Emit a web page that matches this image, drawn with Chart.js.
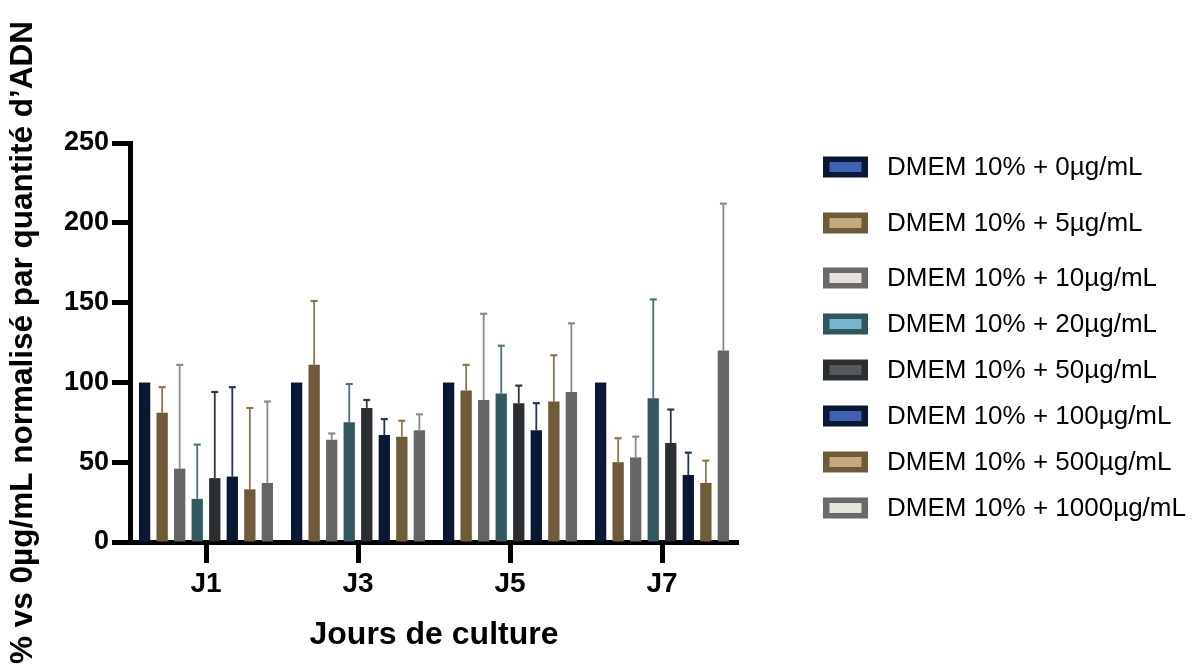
<!DOCTYPE html>
<html>
<head>
<meta charset="utf-8">
<script src="https://cdn.jsdelivr.net/npm/chart.js@4.4.1/dist/chart.umd.min.js"></script>
<style>
  html, body { margin: 0; padding: 0; background: #ffffff; }
  #wrap { position: relative; width: 1200px; height: 666px; }
  canvas { display: block; }
</style>
</head>
<body>
<div id="wrap"><canvas id="c" width="1200" height="666"></canvas></div>
<script>
// ---- Data ----
const categories = ['J1', 'J3', 'J5', 'J7'];
const seriesLabels = [
  'DMEM 10% + 0µg/mL',
  'DMEM 10% + 5µg/mL',
  'DMEM 10% + 10µg/mL',
  'DMEM 10% + 20µg/mL',
  'DMEM 10% + 50µg/mL',
  'DMEM 10% + 100µg/mL',
  'DMEM 10% + 500µg/mL',
  'DMEM 10% + 1000µg/mL'
];
const s0    = [100, 100, 100, 100];
const s5    = [81, 111, 95, 50];
const s10   = [46, 64, 89, 53];
const s20   = [27, 75, 93, 90];
const s50   = [40, 84, 87, 62];
const s100  = [41, 67, 70, 42];
const s500  = [33, 66, 88, 37];
const s1000 = [37, 70, 94, 120];

const sd0    = [0, 0, 0, 0];
const sd5    = [16, 40, 16, 15];
const sd10   = [65, 4, 54, 13];
const sd20   = [34, 24, 30, 62];
const sd50   = [54, 5, 11, 21];
const sd100  = [56, 10, 17, 14];
const sd500  = [51, 10, 29, 14];
const sd1000 = [51, 10, 43, 92];

const yTicks = [0, 50, 100, 150, 200, 250];
const xTitle = 'Jours de culture';
const yTitle = '% vs 0µg/mL normalisé par quantité d’ADN';

// ---- Styles ----
const barColors   = ['#0a1835', '#6f5b37', '#666666', '#335a60', '#2b2f31', '#0a1835', '#6f5b37', '#666666'];
const errColors   = ['#0a1835', '#8b7650', '#8a8a8a', '#4d7480', '#333638', '#22335c', '#8b7650', '#8a8a8a'];
const legendBorder= ['#0a1835', '#6f5b37', '#6a6a6a', '#30575e', '#2a2e30', '#0a1835', '#6f5b37', '#6a6a6a'];
const legendInner = ['#3d63b3', '#c2aa7c', '#e4e2da', '#78b6d0', '#565a5e', '#3d63b3', '#c2aa7c', '#e4e2da'];

const values = [s0, s5, s10, s20, s50, s100, s500, s1000];
const errors = [sd0, sd5, sd10, sd20, sd50, sd100, sd500, sd1000];

const FONT = '"Liberation Sans", Arial, Helvetica, sans-serif';

const datasets = seriesLabels.map((lab, i) => ({
  label: lab,
  data: values[i],
  errorValues: errors[i],
  backgroundColor: barColors[i],
  borderWidth: 0,
  categoryPercentage: 0.923,
  barPercentage: 0.645
}));

const errorBarPlugin = {
  id: 'errorBars',
  afterDatasetsDraw(chart) {
    const ctx = chart.ctx;
    const yScale = chart.scales.y;
    chart.data.datasets.forEach((ds, di) => {
      const meta = chart.getDatasetMeta(di);
      ds.errorValues.forEach((e, i) => {
        if (!e) return;
        const el = meta.data[i];
        const yTop = yScale.getPixelForValue(ds.data[i] + e);
        const yBar = yScale.getPixelForValue(ds.data[i]);
        ctx.save();
        ctx.strokeStyle = errColors[di];
        ctx.lineWidth = 1.8;
        ctx.beginPath();
        ctx.moveTo(el.x, yBar);
        ctx.lineTo(el.x, yTop);
        ctx.stroke();
        ctx.lineWidth = 2.2;
        ctx.beginPath();
        ctx.moveTo(el.x - 3.5, yTop);
        ctx.lineTo(el.x + 3.5, yTop);
        ctx.stroke();
        ctx.restore();
      });
    });
  }
};

const legendPlugin = {
  id: 'customLegend',
  afterDraw(chart, args, opts) {
    const ctx = chart.ctx;
    ctx.save();
    chart.data.datasets.forEach((ds, i) => {
      const cy = opts.rows[i];
      const bx = opts.boxX, bw = opts.boxW, bh = opts.boxH, bt = opts.boxBorder;
      ctx.fillStyle = legendBorder[i];
      ctx.fillRect(bx, cy - bh / 2, bw, bh);
      ctx.fillStyle = legendInner[i];
      ctx.fillRect(bx + bt + 1, cy - bh / 2 + bt, bw - 2 * bt - 2, bh - 2 * bt);
      ctx.fillStyle = '#000000';
      ctx.font = opts.font;
      ctx.textBaseline = 'middle';
      ctx.textAlign = 'left';
      ctx.fillText(ds.label, opts.textX, cy + 1);
    });
    ctx.restore();
  }
};

new Chart(document.getElementById('c'), {
  type: 'bar',
  data: { labels: categories, datasets },
  plugins: [errorBarPlugin, legendPlugin],
  options: {
    responsive: false,
    animation: false,
    devicePixelRatio: 1,
    layout: { padding: { left: 0, top: 143, right: 462, bottom: 0 } },
    plugins: {
      legend: { display: false },
      tooltip: { enabled: false },
      customLegend: {
        rows: [167, 223, 278, 324, 370, 416, 462, 508],
        boxX: 823, boxW: 45, boxH: 21, boxBorder: 5.5,
        textX: 887,
        font: '26px ' + FONT
      }
    },
    scales: {
      x: {
        type: 'category',
        offset: true,
        afterFit(s) { s.height = 124; },
        grid: {
          offset: false,
          drawOnChartArea: false,
          drawTicks: true,
          tickLength: 21,
          tickWidth: 5,
          tickColor: '#000000'
        },
        border: { display: true, color: '#000000', width: 5 },
        ticks: {
          color: '#000000',
          padding: 4,
          font: { family: FONT, size: 28, weight: 'bold' }
        },
        title: {
          display: true,
          text: xTitle,
          color: '#000000',
          font: { family: FONT, size: 32, weight: 'bold' },
          padding: { top: 0, bottom: 12 }
        }
      },
      y: {
        min: 0,
        max: 250,
        afterFit(s) { s.width = 130; },
        afterBuildTicks(s) { s.ticks = yTicks.map(v => ({ value: v })); },
        grid: {
          drawOnChartArea: false,
          drawTicks: true,
          tickLength: 18,
          tickWidth: 5,
          tickColor: '#000000'
        },
        border: { display: true, color: '#000000', width: 5 },
        ticks: {
          color: '#000000',
          padding: 3,
          font: { family: FONT, size: 27, weight: 'bold' }
        },
        title: {
          display: true,
          text: yTitle,
          color: '#000000',
          font: { family: FONT, size: 31.5, weight: 'bold' },
          padding: { top: 4, bottom: 0 }
        }
      }
    }
  }
});
</script>
</body>
</html>
